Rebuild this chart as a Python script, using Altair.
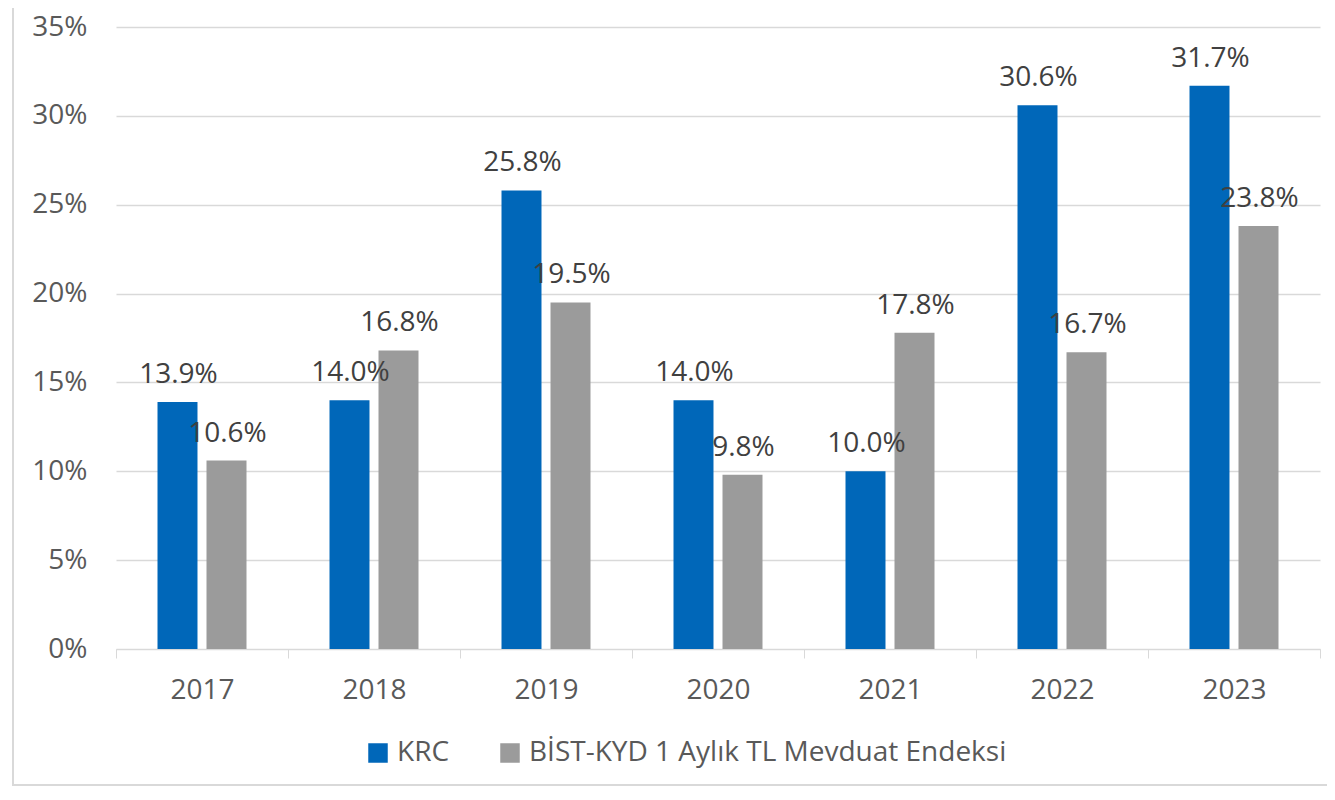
import altair as alt
import pandas as pd

years = ["2017", "2018", "2019", "2020", "2021", "2022", "2023"]
series_names = ["KRC", "BİST-KYD 1 Aylık TL Mevduat Endeksi"]
krc = [13.9, 14.0, 25.8, 14.0, 10.0, 30.6, 31.7]
bist = [10.6, 16.8, 19.5, 9.8, 17.8, 16.7, 23.8]
colors = ["#0067B9", "#9B9B9B"]
y_ticks = [0, 5, 10, 15, 20, 25, 30, 35]

rows = []
for i, yr in enumerate(years):
    rows.append({"year": yr, "series": series_names[0], "value": krc[i]})
    rows.append({"year": yr, "series": series_names[1], "value": bist[i]})
df = pd.DataFrame(rows)
df["label"] = df["value"].map(lambda v: f"{v:.1f}%")

FONT = "Open Sans"

x_enc = alt.X(
    "year:N",
    sort=years,
    scale=alt.Scale(paddingInner=0, paddingOuter=0),
    axis=alt.Axis(
        title=None, labelAngle=0, tickBand="extent",
        domainColor="#D9D9D9", tickColor="#D9D9D9", tickSize=9,
        labelPadding=18, labelFontSize=28, labelFont=FONT,
        labelColor="#595959", grid=False,
    ),
)
xo_enc = alt.XOffset(
    "series:N", sort=series_names,
    scale=alt.Scale(paddingInner=0.184, paddingOuter=0.847),
)
y_enc = alt.Y(
    "value:Q",
    scale=alt.Scale(domain=[0, 35], nice=False),
    axis=alt.Axis(
        title=None, values=y_ticks, labelExpr="datum.value + '%'",
        ticks=False, domain=False, labelPadding=29,
        labelFontSize=28, labelFont=FONT, labelColor="#595959",
        gridColor="#D9D9D9", gridWidth=1.5,
    ),
)

border = alt.Chart(pd.DataFrame({"a": [0]})).mark_rect(
    fill=None, stroke="#D9D9D9", strokeWidth=2
).encode(
    x=alt.value(-103), x2=alt.value(1260), y=alt.value(-60), y2=alt.value(758)
)

bars = alt.Chart(df).mark_bar().encode(
    x=x_enc,
    xOffset=xo_enc,
    y=y_enc,
    color=alt.Color(
        "series:N", sort=series_names,
        scale=alt.Scale(domain=series_names, range=colors),
        legend=alt.Legend(
            title=None, orient="none", legendX=248, legendY=712,
            direction="horizontal", symbolType="square", symbolSize=380,
            symbolStrokeWidth=0, labelFontSize=28, labelFont=FONT,
            labelColor="#595959", labelOffset=5, columnPadding=46,
            padding=0, labelLimit=800,
        ),
    ),
)

labels = alt.Chart(df).mark_text(
    font=FONT, fontSize=28, color="#404040", baseline="alphabetic", dy=-19, dx=1
).encode(
    x=alt.X("year:N", sort=years),
    xOffset=alt.XOffset("series:N", sort=series_names),
    y=alt.Y("value:Q"),
    text="label:N",
)

chart = alt.layer(border, bars, labels).properties(
    width=1204, height=622,
    padding={"left": 108, "top": 19, "right": 7, "bottom": 139},
    autosize=alt.AutoSizeParams(type="none"),
).configure_view(strokeWidth=0)

chart.save("out.html", embed_options={"renderer": "svg", "actions": False})
